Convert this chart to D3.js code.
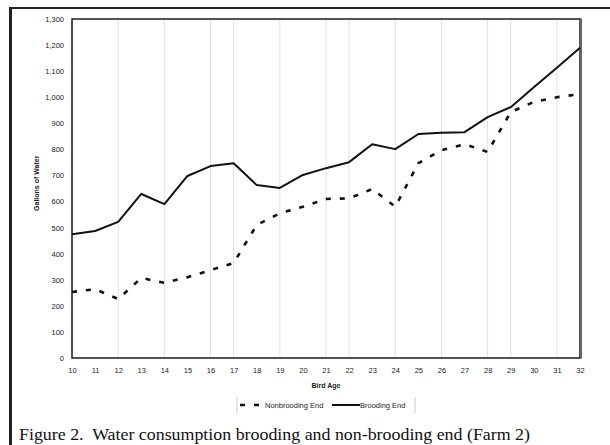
<!DOCTYPE html>
<html>
<head>
<meta charset="utf-8">
<script src="https://cdn.jsdelivr.net/npm/d3@7/dist/d3.min.js"></script>
<style>
  body { margin: 0; background: #fff; }
  .tick text { font-family: Arial, "Liberation Sans", sans-serif; font-size: 7.5px; fill: #222; }
  .axis-title { font-family: Arial, "Liberation Sans", sans-serif; font-size: 7px; font-weight: bold; fill: #222; }
  .legend-text { font-family: Arial, "Liberation Sans", sans-serif; font-size: 7.5px; fill: #222; }
  .caption { font-family: "Liberation Serif", "Times New Roman", serif; font-size: 17px; fill: #111; white-space: pre; }
</style>
</head>
<body>
<div id="chart"></div>
<script>
// Bird age (days) on the x axis
const ages = [10, 11, 12, 13, 14, 15, 16, 17, 18, 19, 20, 21, 22, 23, 24, 25, 26, 27, 28, 29, 30, 31, 32]
// Gallons of water
const nonbrooding = [253, 264, 226, 307, 288, 310, 337, 364, 510, 555, 580, 610, 612, 648, 580, 747, 797, 820, 790, 943, 982, 1000, 1012]
const brooding = [475, 487, 522, 629, 590, 698, 736, 747, 663, 652, 702, 728, 751, 820, 801, 859, 864, 866, 924, 962, 1038, 1113, 1190]
// Gridlines that show up in the scanned figure
const gridAges = [12, 14, 16, 17, 19, 21, 22, 24, 26, 28, 29, 31]
const yTicks = d3.range(0, 1301, 100)

const width = 610
const height = 445
const margin = { top: 19, right: 30, bottom: 87, left: 72 }
const innerWidth = width - margin.left - margin.right
const innerHeight = height - margin.top - margin.bottom

const svg = d3.select('#chart')
  .append('svg')
  .attr('width', width)
  .attr('height', height)

// Outer frame of the figure (top and left edges only visible)
svg.append('line')
  .attr('x1', 10).attr('y1', 8).attr('x2', width).attr('y2', 8)
  .attr('stroke', '#222').attr('stroke-width', 2)
svg.append('line')
  .attr('x1', 10.5).attr('y1', 7).attr('x2', 10.5).attr('y2', height)
  .attr('stroke', '#222').attr('stroke-width', 3)

const g = svg.append('g')
  .attr('transform', `translate(${margin.left}, ${margin.top})`)

const xScale = d3.scaleLinear().domain([10, 32]).range([0, innerWidth])
const yScale = d3.scaleLinear().domain([0, 1300]).range([innerHeight, 0])

// Vertical gridlines
g.selectAll('.grid-line')
  .data(gridAges)
  .join('line')
  .attr('class', 'grid-line')
  .attr('x1', d => xScale(d))
  .attr('x2', d => xScale(d))
  .attr('y1', 0)
  .attr('y2', innerHeight)
  .attr('stroke', '#e2e2e2')
  .attr('stroke-width', 1)

// Left axis
const yAxis = g.append('g')
  .call(d3.axisLeft(yScale).tickValues(yTicks).tickSize(0).tickPadding(8).tickFormat(d3.format(',')))
yAxis.select('.domain').remove()

// Bottom axis
const xAxis = g.append('g')
  .attr('transform', `translate(0, ${innerHeight})`)
  .call(d3.axisBottom(xScale).tickValues(ages).tickSize(0).tickPadding(10).tickFormat(d3.format('d')))
xAxis.select('.domain').remove()

// Plot border
g.append('rect')
  .attr('x', 0).attr('y', 0)
  .attr('width', innerWidth).attr('height', innerHeight)
  .attr('fill', 'none')
  .attr('stroke', '#1a1a1a')
  .attr('stroke-width', 1.5)
g.append('line')
  .attr('x1', innerWidth + 1).attr('x2', innerWidth + 1)
  .attr('y1', -0.5).attr('y2', innerHeight + 0.5)
  .attr('stroke', '#666').attr('stroke-width', 2)

// Axis titles
g.append('text')
  .attr('class', 'axis-title')
  .attr('transform', `translate(-33, ${yScale(670)}) rotate(-90)`)
  .attr('text-anchor', 'middle')
  .text('Gallons of Water')

g.append('text')
  .attr('class', 'axis-title')
  .attr('x', innerWidth / 2)
  .attr('y', innerHeight + 30)
  .attr('text-anchor', 'middle')
  .text('Bird Age')

// Lines
const line = d3.line()
  .x((d, i) => xScale(ages[i]))
  .y(d => yScale(d))

g.append('path')
  .datum(nonbrooding)
  .attr('fill', 'none')
  .attr('stroke', '#111')
  .attr('stroke-width', 2.6)
  .attr('stroke-dasharray', '5 9')
  .attr('d', line)

g.append('path')
  .datum(brooding)
  .attr('fill', 'none')
  .attr('stroke', '#111')
  .attr('stroke-width', 2)
  .attr('stroke-linejoin', 'round')
  .attr('d', line)

// Legend
const legend = svg.append('g').attr('transform', 'translate(237, 405)')
legend.append('line').attr('x1', 0).attr('x2', 0).attr('y1', -8).attr('y2', 8).attr('stroke', '#ccc')
legend.append('line').attr('x1', 178).attr('x2', 178).attr('y1', -8).attr('y2', 8).attr('stroke', '#ccc')
legend.append('line')
  .attr('x1', 3).attr('x2', 26).attr('y1', 0).attr('y2', 0)
  .attr('stroke', '#111').attr('stroke-width', 2.6).attr('stroke-dasharray', '5 9')
legend.append('text').attr('class', 'legend-text').attr('x', 28).attr('y', 2.5).text('Nonbrooding End')
legend.append('line')
  .attr('x1', 95).attr('x2', 123).attr('y1', 0).attr('y2', 0)
  .attr('stroke', '#111').attr('stroke-width', 2)
legend.append('text').attr('class', 'legend-text').attr('x', 123).attr('y', 2.5).text('Brooding End')

// Caption
svg.append('text')
  .attr('class', 'caption')
  .attr('x', 19)
  .attr('y', 440)
  .attr('textLength', 511)
  .attr('lengthAdjust', 'spacingAndGlyphs')
  .text('Figure 2.  Water consumption brooding and non-brooding end (Farm 2)')
</script>
</body>
</html>
